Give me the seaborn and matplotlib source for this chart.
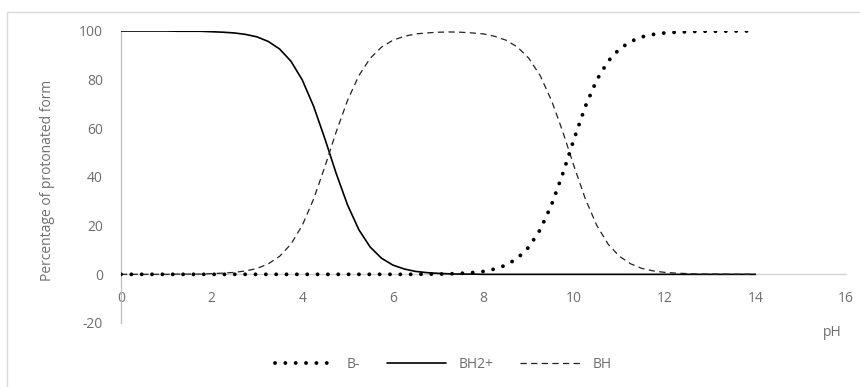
import seaborn as sns
import matplotlib.pyplot as plt
from matplotlib.patches import Rectangle

# Speciation of a diprotic base vs pH
ph = [0, 0.25, 0.5, 0.75, 1, 1.25, 1.5, 1.75, 2, 2.25, 2.5, 2.75, 3, 3.25, 3.5, 3.75,
      4, 4.25, 4.5, 4.75, 5, 5.25, 5.5, 5.75, 6, 6.25, 6.5, 6.75, 7, 7.25, 7.5, 7.75,
      8, 8.25, 8.5, 8.75, 9, 9.25, 9.5, 9.75, 10, 10.25, 10.5, 10.75, 11, 11.25, 11.5, 11.75,
      12, 12.25, 12.5, 12.75, 13, 13.25, 13.5, 13.75, 14]

b_minus = [0, 0, 0, 0, 0, 0, 0, 0, 0, 0, 0, 0, 0, 0, 0, 0,
           0, 0, 0, 0, 0, 0, 0, 0, 0, 0, 0, 0.1, 0.1, 0.2, 0.4, 0.7,
           1.2, 2.2, 3.8, 6.6, 11.2, 18.3, 28.5, 41.4, 55.7, 69.1, 79.9, 87.6, 92.6, 95.7, 97.6, 98.6,
           99.2, 99.5, 99.7, 99.9, 99.9, 99.9, 100, 100, 100]

bh2_plus = [100, 100, 100, 100, 100, 99.9, 99.9, 99.9, 99.7, 99.5, 99.2, 98.6, 97.6, 95.7, 92.6, 87.6,
            79.9, 69.1, 55.7, 41.4, 28.5, 18.3, 11.2, 6.6, 3.8, 2.2, 1.2, 0.7, 0.4, 0.2, 0.1, 0.1,
            0, 0, 0, 0, 0, 0, 0, 0, 0, 0, 0, 0, 0, 0, 0, 0,
            0, 0, 0, 0, 0, 0, 0, 0, 0]

bh = [0, 0, 0, 0, 0, 0.1, 0.1, 0.1, 0.3, 0.5, 0.8, 1.4, 2.4, 4.3, 7.4, 12.4,
      20.1, 30.9, 44.3, 58.6, 71.5, 81.7, 88.8, 93.4, 96.2, 97.8, 98.8, 99.2, 99.5, 99.6, 99.5, 99.2,
      98.8, 97.8, 96.2, 93.4, 88.8, 81.7, 71.5, 58.6, 44.3, 30.9, 20.1, 12.4, 7.4, 4.3, 2.4, 1.4,
      0.8, 0.5, 0.3, 0.1, 0.1, 0.1, 0, 0, 0]

x_ticks = [0, 2, 4, 6, 8, 10, 12, 14, 16]
y_ticks = [-20, 0, 20, 40, 60, 80, 100]

sns.set_theme(style="white")
plt.rcParams['font.family'] = ['Open Sans', 'DejaVu Sans']
plt.rcParams['axes.unicode_minus'] = False
txt = '#6e6e6e'

fig = plt.figure(figsize=(8.6, 3.87), dpi=100)
ax = fig.add_axes([121 / 860, 1 - 323 / 387, 725 / 860, 292 / 387])

sns.lineplot(x=ph, y=bh2_plus, ax=ax, color='black', lw=1.2, label='BH2+', zorder=3)
sns.lineplot(x=ph, y=bh, ax=ax, color='#222222', lw=0.9, linestyle=(0, (5, 3.5)), label='BH', zorder=3)
sns.lineplot(x=ph, y=b_minus, ax=ax, color='black', lw=2.8, linestyle=(0, (0.01, 2.65)),
             dash_capstyle='round', label='B-', zorder=4)
ax.get_legend().remove()

ax.set_xlim(0, 16)
ax.set_ylim(-20, 100)
ax.set_xticks(x_ticks)
ax.set_yticks(y_ticks)
ax.tick_params(axis='x', length=0, pad=12, labelsize=10, labelcolor=txt)
ax.tick_params(axis='y', length=0, pad=13, labelsize=10, labelcolor=txt)
ax.grid(False)

for s in ['top', 'right']:
    ax.spines[s].set_visible(False)
ax.spines['bottom'].set_position(('data', 0))
ax.spines['bottom'].set_color('#d0d0d0')
ax.spines['bottom'].set_linewidth(0.9)
ax.spines['bottom'].set_zorder(1)
ax.spines['left'].set_color('#bfbfbf')
ax.spines['left'].set_linewidth(0.9)
ax.set_xlabel('')
ax.set_ylabel('')

fig.text(48 / 860, 1 - 180 / 387, 'Percentage of protonated form', rotation=90,
         ha='center', va='center', fontsize=10, color=txt)
fig.text(832 / 860, 1 - 332 / 387, 'pH', ha='center', va='center', fontsize=10, color=txt)

lines = {l.get_label(): l for l in ax.get_lines()}
order = ['B-', 'BH2+', 'BH']
fig.legend([lines[k] for k in order], order, loc='center', bbox_to_anchor=(443 / 860, 1 - 364 / 387),
           ncol=3, frameon=False, fontsize=10, labelcolor=txt, handlelength=4.3,
           handletextpad=0.9, columnspacing=1.9)

# chart area border (clipped at right/bottom like the source screenshot)
fig.patches.append(Rectangle((7 / 860, -0.05), 1.2, 1 - 12 / 387 + 0.05, transform=fig.transFigure,
                             fill=False, edgecolor='#d9d9d9', lw=1.0))

fig.savefig('out.png', dpi=100)
